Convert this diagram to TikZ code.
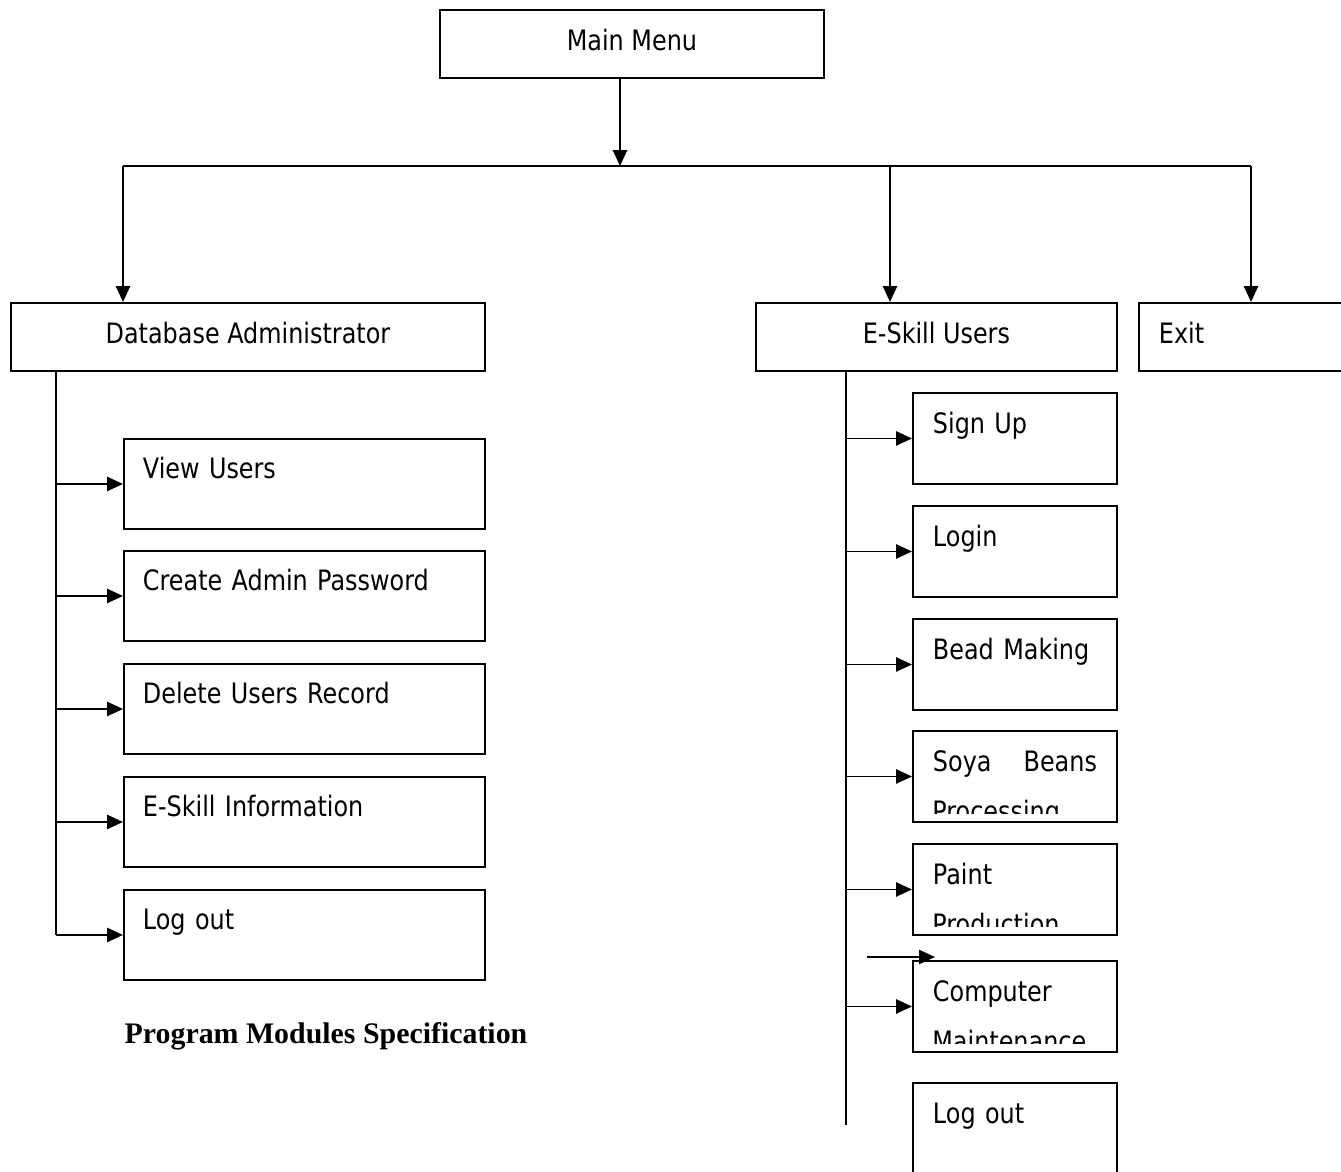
\documentclass[tikz,border=0pt]{standalone}
\usepackage{fontspec}
\setmainfont{DejaVu Sans}[FakeStretch=0.85]
\newfontfamily\capfont{Liberation Serif}
\usetikzlibrary{arrows.meta}

\tikzset{
	arr/.style={line width=1.1pt, -{Triangle[length=9pt,width=8pt]}},
	conn/.style={line width=1.1pt},
	boxfont/.style={font=\fontsize{16}{19}\selectfont},
	topbox/.style={draw, line width=1.1pt, boxfont, anchor=north west, inner sep=0pt,
		text height=0.82cm, text depth=0.54cm},
	leftbox/.style={draw, line width=1.1pt, boxfont, anchor=north west, inner ysep=0pt,
		inner xsep=0.38cm, text width=6.46cm, align=left, text height=0.8cm, text depth=1.0cm},
	rightbox/.style={draw, line width=1.1pt, boxfont, anchor=north west, inner ysep=0pt,
		inner xsep=0.4cm, text width=3.28cm, align=left, text height=0.82cm, text depth=1.0cm},
	cutline/.style={boxfont, anchor=base west, inner sep=0pt}
}

\begin{document}
\begin{tikzpicture}[x=0.02cm, y=-0.02cm]
	\useasboundingbox (0,0) rectangle (1341,1171);
	
	% top level
	\node[topbox, minimum width=7.68cm] (menu) at (439,9) {Main Menu};
	\node[topbox, minimum width=9.48cm] (dba) at (10,302) {Database Administrator};
	\node[topbox, minimum width=7.22cm] (esu) at (755,302) {E-Skill Users};
	\node[topbox, inner xsep=0.4cm, text width=3.26cm, align=left] (exit) at (1138,302) {Exit};
	
	\coordinate (split) at (620,166);
	\coordinate (bl) at (123,166);
	\coordinate (bm) at (890,166);
	\coordinate (br) at (1251,166);
	
	\draw[arr] (menu.south -| split) -- (split);
	\draw[conn] (bl) -- (br);
	\draw[arr] (bl) -- (bl |- dba.north);
	\draw[arr] (bm) -- (bm |- esu.north);
	\draw[arr] (br) -- (br |- exit.north);
	
	% database administrator branch
	\node[leftbox] (view) at (123,438) {View Users};
	\node[leftbox] (pass) at (123,550) {Create Admin Password};
	\node[leftbox] (del) at (123,663) {Delete Users Record};
	\node[leftbox] (info) at (123,776) {E-Skill Information};
	\node[leftbox] (lout) at (123,889) {Log out};
	
	\coordinate (lspine) at (56,370);
	\draw[conn] (lspine) -- (lspine |- lout.west);
	\foreach \b in {view,pass,del,info,lout} {
		\draw[arr] (lspine |- \b.west) -- (\b.west);
	}
	
	% e-skill users branch
	\node[rightbox] (sign) at (912,392) {Sign Up};
	\node[rightbox] (login) at (912,505) {Login};
	\node[rightbox] (bead) at (912,618) {Bead Making};
	\node[rightbox] (soya) at (912,730) {Soya\hfill Beans};
	\node[rightbox] (paint) at (912,843) {Paint};
	\node[rightbox] (comp) at (912,960) {Computer};
	\node[rightbox] (rout) at (912,1082) {Log out};
	
	% second lines cut off by the boxes
	\foreach \b/\t in {soya/Processing,paint/Production,comp/Maintenance} {
		\begin{scope}
			\clip (\b.north west) rectangle ([yshift=0.18cm]\b.south east);
			\node[cutline] (\b2) at ([xshift=0.4cm, yshift=-1.0cm]\b.base west) {\t};
		\end{scope}
	}
	
	\coordinate (rspine) at (846,370);
	\coordinate (rend) at (846,1125);
	\draw[conn] (rspine) -- (rend);
	\foreach \b in {sign,login,bead,soya,paint,comp} {
		\draw[arr] (rspine |- \b.west) -- (\b.west);
	}
	
	\coordinate (stray1) at (867,957);
	\coordinate (stray2) at (935,957);
	\draw[arr] (stray1) -- (stray2);
	
	% caption
	\node[font=\capfont\bfseries\fontsize{17}{20}\selectfont] (title) at (326,1036) {Program Modules Specification};
\end{tikzpicture}
\end{document}
